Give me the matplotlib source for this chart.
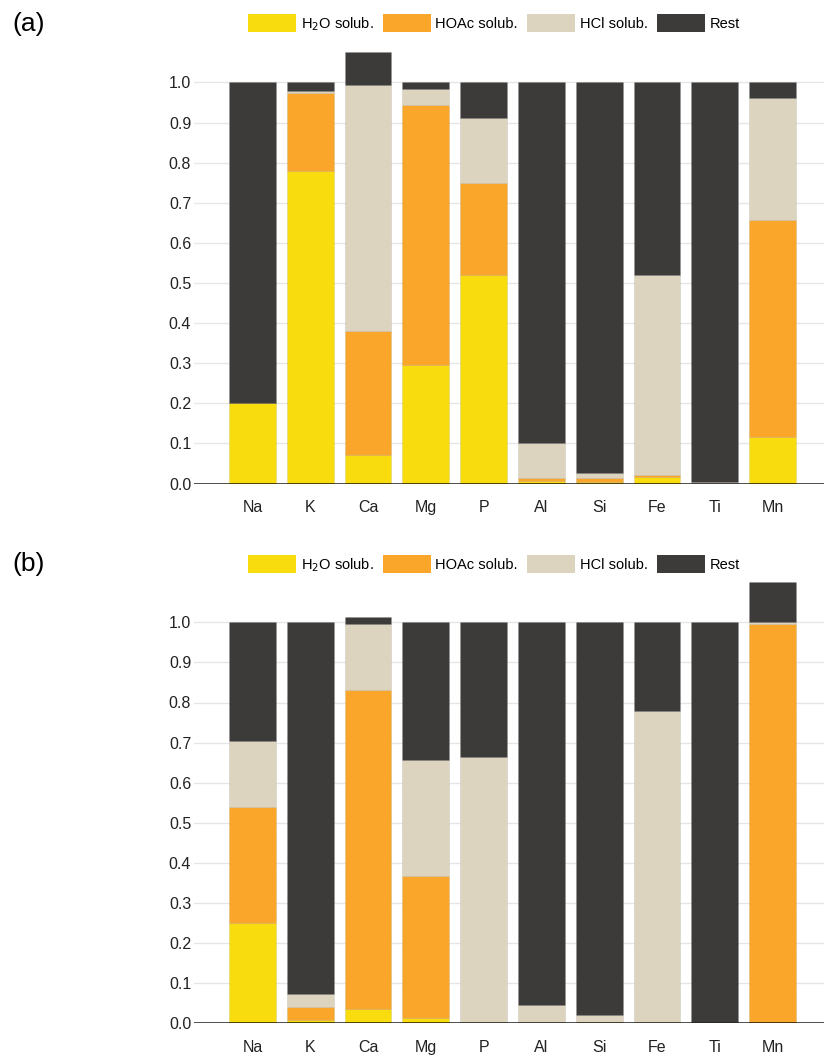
import numpy as np
import matplotlib
matplotlib.use('Agg')
import matplotlib.pyplot as plt
from matplotlib.patches import Patch

plt.rcParams['font.family'] = ['Liberation Sans', 'DejaVu Sans']

elements = ['Na', 'K', 'Ca', 'Mg', 'P', 'Al', 'Si', 'Fe', 'Ti', 'Mn']
series_names = ['H$_2$O solub.', 'HOAc solub.', 'HCl solub.', 'Rest']
colors = ['#F9DC0E', '#F9A62A', '#DCD4BE', '#3D3B39']

# panel (a)
h2o_a = [0.20, 0.78, 0.072, 0.295, 0.52, 0.007, 0.003, 0.016, 0.0, 0.115]
hoac_a = [0.0, 0.195, 0.308, 0.65, 0.23, 0.006, 0.010, 0.005, 0.0, 0.543]
hcl_a = [0.0, 0.003, 0.615, 0.04, 0.161, 0.087, 0.012, 0.499, 0.004, 0.304]
rest_a = [0.80, 0.022, 0.08, 0.015, 0.089, 0.90, 0.975, 0.48, 0.996, 0.038]

# panel (b)
h2o_b = [0.25, 0.008, 0.035, 0.012, 0.0, 0.0, 0.003, 0.0, 0.0, 0.0]
hoac_b = [0.29, 0.032, 0.797, 0.355, 0.0, 0.0, 0.0, 0.0, 0.0, 0.997]
hcl_b = [0.163, 0.032, 0.163, 0.29, 0.665, 0.045, 0.017, 0.778, 0.003, 0.003]
rest_b = [0.297, 0.928, 0.019, 0.343, 0.335, 0.955, 0.98, 0.222, 0.997, 0.10]

yticks = np.arange(0, 1.01, 0.1)

fig = plt.figure(figsize=(8.24, 10.58), dpi=100)


def panel(rect, data, label, leg_y):
    ax = fig.add_axes(rect)
    x = np.arange(len(elements))
    bottom = np.zeros(len(elements))
    for vals, c in zip(data, colors):
        vals = np.array(vals)
        ax.bar(x, vals, width=0.81, bottom=bottom, color=c,
               edgecolor=(0.45, 0.43, 0.40, 0.18), linewidth=0.5, zorder=2)
        bottom = bottom + vals
    ax.set_xlim(-1.01, 9.89)
    ax.set_ylim(0, 1.1)
    ax.set_yticks(yticks)
    ax.set_yticklabels(['%.1f' % v for v in yticks])
    ax.set_xticks(x)
    ax.set_xticklabels(elements)
    for s in ax.spines.values():
        s.set_visible(False)
    ax.tick_params(axis='both', length=0, labelsize=11.5, colors='#222222')
    ax.tick_params(axis='x', pad=12)
    ax.tick_params(axis='y', pad=2)
    for t in yticks[1:]:
        ax.axhline(t, color='#E6E6E6', lw=1.0, zorder=1)
    ax.axhline(0, color='black', alpha=0.75, lw=1.3, zorder=3)
    fig.text(12 / 824, 1 - leg_y / 1058, label, fontsize=19, va='center', ha='left')
    handles = [Patch(facecolor=c, edgecolor='none') for c in colors]
    fig.legend(handles, series_names, loc='center', ncol=4,
               bbox_to_anchor=(494 / 824, 1 - leg_y / 1058), frameon=False,
               fontsize=10.5, handlelength=3.3, handleheight=1.45,
               handletextpad=0.3, columnspacing=0.65, borderpad=0)
    return ax


panel([194 / 824, 1 - 483.5 / 1058, 630 / 824, 1.1 * 401 / 1058],
      [h2o_a, hoac_a, hcl_a, rest_a], '(a)', 23.5)
panel([194 / 824, 1 - 1023.3 / 1058, 630 / 824, 1.1 * 401 / 1058],
      [h2o_b, hoac_b, hcl_b, rest_b], '(b)', 564.5)

fig.savefig('out.png', dpi=100)
